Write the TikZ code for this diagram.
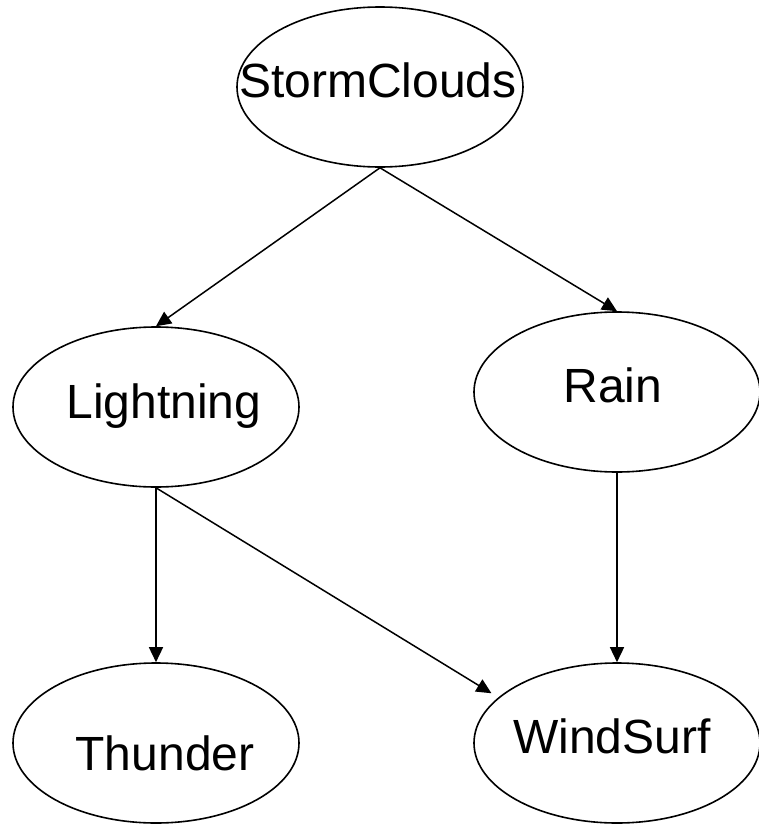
\documentclass[tikz,border=0pt]{standalone}
\usepackage{fontspec}
\setmainfont{Liberation Sans}
\usetikzlibrary{shapes.geometric,arrows.meta}
\tikzset{
  bnode/.style={ellipse, draw=black, line width=1.6pt, minimum width=286pt, minimum height=160pt, inner sep=0pt},
  blabel/.style={anchor=base, font=\fontsize{48}{56}\selectfont, inner sep=0pt},
  barrow/.style={line width=1.5pt, -{Triangle[length=15pt,width=14pt]}}
}
\begin{document}
\begin{tikzpicture}[x=1pt,y=-1pt]
\useasboundingbox (0,0) rectangle (759,825);
\node[bnode] (S) at (380,87) {};
\node[bnode] (L) at (156,407) {};
\node[bnode] (R) at (617,392) {};
\node[bnode] (T) at (156,743) {};
\node[bnode] (W) at (617,743) {};
\node[blabel] (St) at (378,97) {StormClouds};
\node[blabel] (Lt) at (164,418) {Lightning};
\node[blabel] (Rt) at (613,402) {Rain};
\node[blabel] (Tt) at (165,770) {Thunder};
\node[blabel] (Wt) at (612,753) {WindSurf};
\draw[barrow] (S.south) -- (L.north);
\draw[barrow] (S.south) -- (R.north);
\draw[barrow] (L.south) -- (T.north);
\draw[barrow, shorten >=8pt] (L.south) -- (W.159);
\draw[barrow] (R.south) -- (W.north);
\end{tikzpicture}
\end{document}
